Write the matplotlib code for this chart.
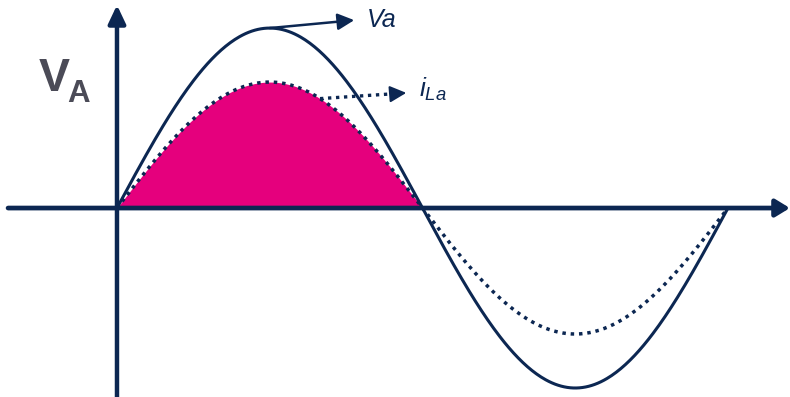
import numpy as np
from matplotlib import pyplot as plt
from matplotlib.patches import FancyArrowPatch

# valores del esquema
amp_va = 1.0      # amplitud de Va
amp_ila = 0.7     # amplitud de i_La
periodo = 2 * np.pi
t = np.linspace(0, periodo, 400)
va = amp_va * np.sin(t)
ila = amp_ila * np.sin(t)

navy = '#0c2752'
magenta = '#e5007d'
gris = '#4b4b57'

plt.rcParams['mathtext.fontset'] = 'custom'
plt.rcParams['mathtext.it'] = 'Liberation Sans:italic'
plt.rcParams['mathtext.rm'] = 'Liberation Sans'

fig = plt.figure(figsize=(7.9, 3.97), dpi=100)
ax = fig.add_axes([0, 0, 1, 1])
ax.axis('off')
ax.set_xlim(-1.203, 6.921)
ax.set_ylim(-1.05, 1.156)

# area bajo i_La (semiciclo positivo)
m = t <= np.pi
ax.fill_between(t[m], 0, ila[m], color=magenta, lw=0, zorder=1)

ax.plot(t, va, color=navy, lw=2.2, zorder=3)
ax.plot(t, ila, color=navy, lw=2.5, ls=(0, (1, 1.4)), zorder=3)

# ejes con flecha
def flecha(p0, p1, lw, hl, hw, ls='-'):
    a = FancyArrowPatch(p0, p1, arrowstyle='-|>,head_length=%g,head_width=%g' % (hl, hw),
                        mutation_scale=1, lw=lw, color=navy, linestyle=ls,
                        shrinkA=0, shrinkB=0, zorder=4, clip_on=False)
    ax.add_patch(a)

flecha((-1.12, 0), (6.92, 0), 3.4, 8.5, 5.2)
flecha((0, -1.06), (0, 1.128), 3.2, 11, 5.2)

# Va
flecha((np.pi / 2, 1.0), (2.44, 1.044), 1.8, 10, 5)
ax.text(2.57, 1.006, 'Va', fontsize=18, style='italic', family='Liberation Sans',
        color=navy, va='baseline', ha='left')

# i_La: linea punteada + punta solida
ax.plot([2.088, 2.9], [0.608, 0.637], color=navy, lw=2.4, ls=(0, (1, 1.4)), zorder=4)
flecha((2.88, 0.636), (2.975, 0.64), 1.5, 10, 5)
ax.text(3.11, 0.66, r'$i_{La}$', fontsize=19, color=navy, va='center', ha='left')

# V_A
ax.text(-0.802, 0.65, 'V', fontsize=33.5, fontweight='bold', family='Liberation Sans',
        color=gris, va='baseline', ha='left')
ax.text(-0.514, 0.589, 'A', fontsize=22.5, fontweight='bold', family='Liberation Sans',
        color=gris, va='baseline', ha='left')

fig.savefig('out.png', dpi=100)
